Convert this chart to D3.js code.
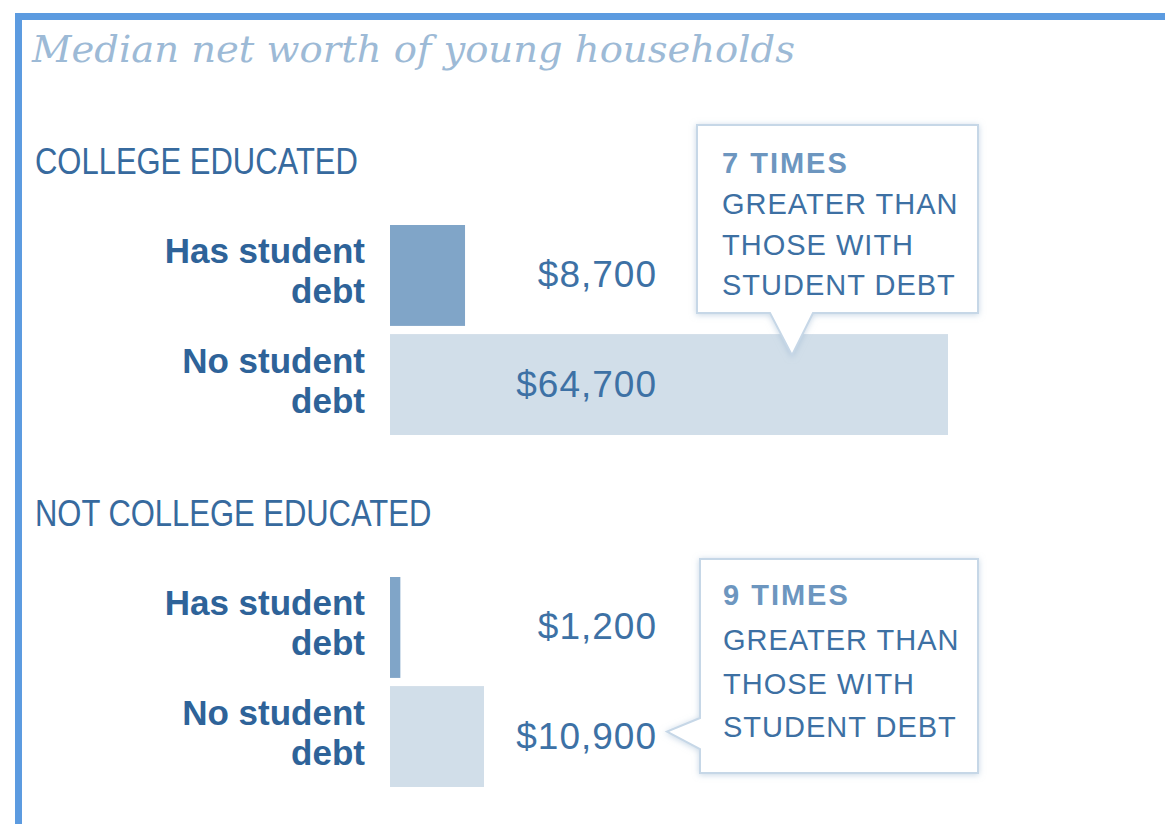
<!DOCTYPE html>
<html>
<head>
<meta charset="utf-8">
<script src="https://cdn.jsdelivr.net/npm/d3@7"></script>
<style>
  html, body { margin: 0; padding: 0; background: #fff; }
  svg { display: block; }
</style>
</head>
<body>
<svg id="chart" width="1165" height="824"></svg>
<script>
// ---- data ----
const chartTitle = "Median net worth of young households";
const groups = ["COLLEGE EDUCATED", "NOT COLLEGE EDUCATED"];
const categories = ["Has student debt", "No student debt"];
const categoryLines = [["Has student", "debt"], ["No student", "debt"]];
const collegeValues = [8700, 64700];
const notCollegeValues = [1200, 10900];
const calloutHeads = ["7 TIMES", "9 TIMES"];
const calloutLines = ["GREATER THAN", "THOSE WITH", "STUDENT DEBT"];

const seriesByGroup = [collegeValues, notCollegeValues];

// ---- styles ----
const C = {
  border: "#5c9be0",
  title: "#9dbad6",
  section: "#376a9e",
  label: "#2e6399",
  value: "#3d71a5",
  barHas: "#80a5c8",
  barNo: "#d1dee9",
  calloutStroke: "#c6d7e7",
  calloutHead: "#6d96bf",
  calloutText: "#3d70a3"
};

const svg = d3.select("#chart");
const defs = svg.append("defs");
const f = defs.append("filter").attr("id", "glow")
  .attr("x", "-10%").attr("y", "-10%").attr("width", "120%").attr("height", "125%");
f.append("feDropShadow").attr("dx", 0).attr("dy", 1).attr("stdDeviation", 3)
  .attr("flood-color", "#9ab6d0").attr("flood-opacity", 0.55);

// frame
svg.append("rect").attr("x", 15).attr("y", 13).attr("width", 1150).attr("height", 7).attr("fill", C.border);
svg.append("rect").attr("x", 15).attr("y", 13).attr("width", 7).attr("height", 811).attr("fill", C.border);

// title
svg.append("text")
  .attr("x", 32).attr("y", 62)
  .attr("font-family", "'DejaVu Serif', Georgia, serif")
  .attr("font-style", "italic")
  .attr("font-size", 37)
  .attr("fill", C.title)
  .attr("textLength", 763).attr("lengthAdjust", "spacingAndGlyphs")
  .text(chartTitle);

// scales
const x = d3.scaleLinear().domain([0, d3.max(collegeValues)]).range([390, 948]);
const gY = d3.scaleBand().domain(groups).range([225, 929]).paddingInner(0);
const yIn = d3.scaleBand().domain(categories).range([0, 210]).paddingInner(0.075);
const fmt = d3.format("$,");

const sans = "'Liberation Sans', Arial, Helvetica, sans-serif";

groups.forEach((g, gi) => {
  const top = gY(g);
  const vals = seriesByGroup[gi];
  const grp = svg.append("g").attr("transform", `translate(0,${top})`);

  // section title (condensed)
  const st = svg.append("text")
    .attr("x", 35).attr("y", top - 51)
    .attr("font-family", sans).attr("font-size", 36)
    .attr("fill", C.section)
    .text(g);
  const nat = st.node().getComputedTextLength();
  st.attr("textLength", nat * 0.86).attr("lengthAdjust", "spacingAndGlyphs");

  const rows = grp.selectAll("g.row").data(categories.map((c, i) => ({ c, i, v: vals[i] })))
    .join("g").attr("class", "row");

  rows.append("rect")
    .attr("x", x(0))
    .attr("y", d => yIn(d.c))
    .attr("width", d => x(d.v) - x(0))
    .attr("height", yIn.bandwidth())
    .attr("fill", d => d.i === 0 ? C.barHas : C.barNo);

  // category labels
  rows.each(function (d) {
    const cy = yIn(d.c) + yIn.bandwidth() / 2;
    const t = d3.select(this).append("text")
      .attr("text-anchor", "end")
      .attr("font-family", sans).attr("font-weight", "bold").attr("font-size", 35)
      .attr("fill", C.label);
    categoryLines[d.i].forEach((ln, li) => {
      t.append("tspan").attr("x", 365).attr("y", cy + (li === 0 ? -12 : 28)).text(ln);
    });
  });

  // value labels
  rows.append("text")
    .attr("x", 657)
    .attr("y", d => yIn(d.c) + yIn.bandwidth() / 2 + 12)
    .attr("text-anchor", "end")
    .attr("font-family", sans).attr("font-size", 37)
    .attr("letter-spacing", 1)
    .attr("fill", C.value)
    .text(d => fmt(d.v));
});

// callouts
function drawCallout(pathD, tx, baselines, head) {
  svg.append("path").attr("d", pathD)
    .attr("fill", "#fff").attr("stroke", C.calloutStroke).attr("stroke-width", 2)
    .attr("filter", "url(#glow)");
  const t = svg.append("text").attr("font-family", sans).attr("font-size", 29);
  t.append("tspan").attr("x", tx).attr("y", baselines[0])
    .attr("font-weight", "bold").attr("letter-spacing", 2).attr("fill", C.calloutHead).text(head);
  calloutLines.forEach((ln, i) => {
    t.append("tspan").attr("x", tx).attr("y", baselines[i + 1])
      .attr("letter-spacing", 1).attr("fill", C.calloutText).text(ln);
  });
}

// callout 1: pointing down into the college "No student debt" bar
{
  const barTop = gY(groups[0]) + yIn(categories[1]);
  const tipX = 792, tipY = barTop + 21;
  const L = 697, R = 978, T = 125, B = 313;
  const p = d3.path();
  p.moveTo(L, T); p.lineTo(R, T); p.lineTo(R, B); p.lineTo(813, B);
  p.lineTo(tipX, tipY); p.lineTo(770, B); p.lineTo(L, B); p.closePath();
  drawCallout(p.toString(), 722, [173, 214, 255, 295], calloutHeads[0]);
}
// callout 2: pointing left at the not-college "No student debt" value
{
  const rowC = gY(groups[1]) + yIn(categories[1]) + yIn.bandwidth() / 2;
  const tipX = 667, tipY = rowC - 5;
  const L = 700, R = 978, T = 559, B = 773;
  const p = d3.path();
  p.moveTo(L, T); p.lineTo(R, T); p.lineTo(R, B); p.lineTo(L, B);
  p.lineTo(L, 749); p.lineTo(tipX, tipY); p.lineTo(L, 718); p.closePath();
  drawCallout(p.toString(), 723, [605, 650, 694, 737], calloutHeads[1]);
}
</script>
</body>
</html>
